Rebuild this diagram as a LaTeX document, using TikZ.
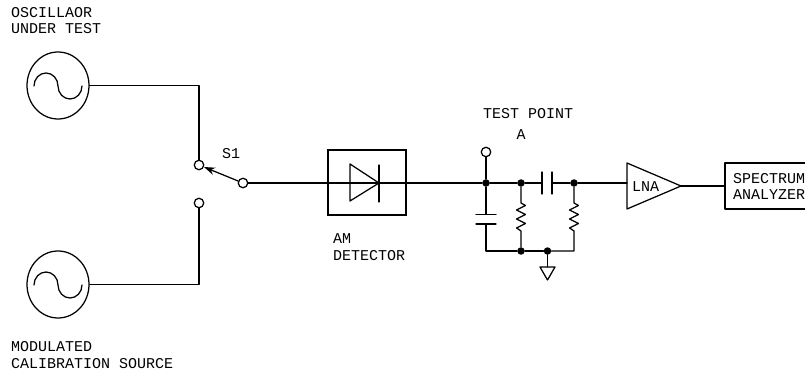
\documentclass[tikz,border=0pt]{standalone}
\usepackage{fontspec}
\setmainfont{Liberation Mono}
\usetikzlibrary{arrows.meta,shapes.geometric}
\tikzset{
  wire/.style={line width=1.25pt,line cap=round,line join=round},
  term/.style={circle,draw,line width=1.25pt,fill=white,minimum size=9.5pt,inner sep=0pt},
  dot/.style={circle,fill=black,minimum size=7.5pt,inner sep=0pt},
  src/.style={ellipse,draw,line width=1.25pt,minimum width=62pt,minimum height=67pt,inner sep=0pt},
  lbl/.style={inner sep=0pt,anchor=base west,align=left,font=\fontsize{15}{16.5}\selectfont}
}
\begin{document}
\begin{tikzpicture}[x=1pt,y=-1pt]
\useasboundingbox (0,0) rectangle (805,374);
\clip (0,0) rectangle (805,374);
% sources
\node[src] (s1) at (58,85.5) {};
\node[src] (s2) at (58,284.5) {};
\draw[wire] (34,86) arc[start angle=180,end angle=0,x radius=12,y radius=-13] arc[start angle=180,end angle=360,x radius=12,y radius=-13];
\draw[wire] (34,285) arc[start angle=180,end angle=0,x radius=12,y radius=-13] arc[start angle=180,end angle=360,x radius=12,y radius=-13];
% switch
\node[term] (c1) at (199,165) {};
\node[term] (c2) at (199,203) {};
\node[term] (c3) at (243,183) {};
\draw[wire] (s1.east) -| (c1.north);
\draw[wire] (s2.east) -| (c2.south);
\draw[wire,-{Stealth[length=11pt,width=7.5pt]}] (c3) -- (c1);
% detector
\node[draw,line width=1.25pt,minimum width=78pt,minimum height=65pt,inner sep=0pt] (det) at (367,182.5) {};
\coordinate (dl) at (350,183);
\coordinate (dr) at (379,183);
\draw[wire] (350,164) -- (350,201) -- (379,183) -- cycle;
\draw[wire] (379,165) -- (379,202);
% junctions
\node[dot] (j1) at (486,183) {};
\node[dot] (j2) at (521,183) {};
\node[dot] (j3) at (574,183) {};
\node[dot] (j4) at (521,251) {};
\node[dot] (j5) at (547.5,251) {};
\node[term] (tp) at (486,152) {};
\draw[wire] (c3) -- (dl);
\draw[wire] (dl) -- (dr);
\draw[wire] (dr) -- (j1) -- (j2);
\draw[wire] (j1) -- (tp);
% coupling cap
\coordinate (cl) at (542,183);
\coordinate (cr) at (552,183);
\draw[wire] (j2) -- (cl);
\draw[wire] (cr) -- (j3);
\draw[wire] (542,172) -- (542,194);
\draw[wire] (552,172) -- (552,194);
% shunt cap
\coordinate (ct) at (486,214.5);
\coordinate (cb) at (486,224);
\draw[wire] (j1) -- (ct);
\draw[wire] (476,214.5) -- (496,214.5);
\draw[wire] (476,224) -- (496,224);
\draw[wire] (cb) |- (j4);
\draw[wire] (j4) -- (j5);
% resistors
\draw[wire] (j2) -- (521,203) -- (525.5,205.5) -- (516.5,210) -- (525.5,214.5) -- (516.5,219) -- (525.5,223.5) -- (516.5,228) -- (521,231) -- (j4);
\coordinate (br) at (574,251);
\draw[wire] (j3) -- (574,203) -- (578.5,205.5) -- (569.5,210) -- (578.5,214.5) -- (569.5,219) -- (578.5,223.5) -- (569.5,228) -- (574,231) -- (br) -- (j5);
% ground
\coordinate (gt) at (547.5,267);
\draw[wire] (j5) -- (gt);
\draw[wire] (540,267) -- (555,267) -- (547.5,280) -- cycle;
% LNA and analyzer
\coordinate (li) at (627,183);
\coordinate (lo) at (681,186);
\draw[wire] (627,163) -- (681,186) -- (627,209) -- cycle;
\draw[wire] (j3) -- (li);
\coordinate (sa) at (725,186);
\draw[wire] (lo) -- (sa);
\draw[wire] (815,163) -- (725,163) -- (725,209) -- (815,209);
% labels
\node[lbl] at (11,34) {OSCILLAOR\\UNDER TEST};
\node[lbl] at (11,368) {MODULATED\\CALIBRATION SOURCE};
\node[lbl] at (222,159) {S1};
\node[lbl] at (483,119) {TEST POINT};
\node[lbl] at (516.5,140) {A};
\node[lbl] at (333,260) {AM\\DETECTOR};
\node[lbl] at (632,191) {LNA};
\node[lbl] at (733,200) {SPECTRUM\\ANALYZER};
\end{tikzpicture}
\end{document}
